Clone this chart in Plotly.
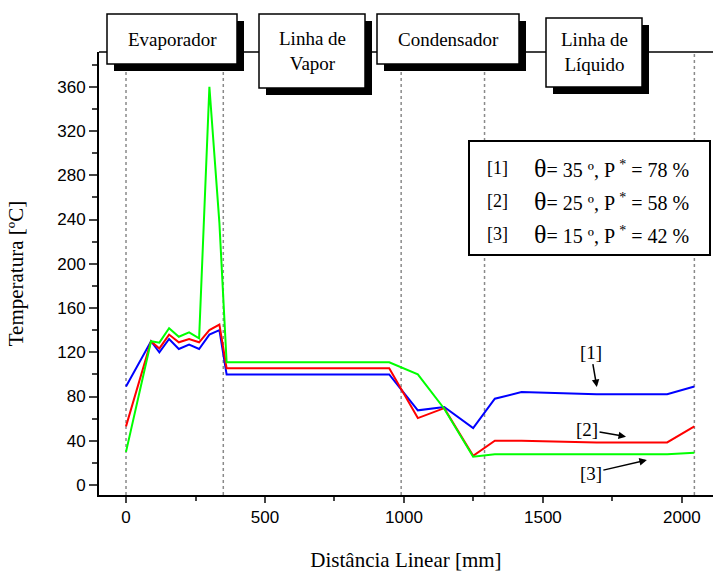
import plotly.graph_objects as go

# ---------------- data ----------------
x_blue = [0, 90, 120, 155, 190, 227, 263, 300, 336, 362, 947, 1050, 1145, 1249, 1327, 1423, 1693, 1947, 2045]
y_blue = [89, 130, 120, 132, 123, 127, 123, 136, 140, 100, 100, 67.5, 70.5, 51.5, 78, 84, 82, 82, 89]

x_red = [0, 90, 120, 155, 190, 227, 263, 300, 336, 362, 947, 1050, 1145, 1249, 1327, 1423, 1693, 1947, 2045]
y_red = [53, 130, 123.5, 136, 129, 132, 129, 140, 145, 105.5, 105.5, 60.5, 69.5, 26.5, 40, 40, 38.5, 38.5, 53]

x_green = [0, 90, 120, 155, 190, 227, 263, 300, 336, 362, 947, 1050, 1145, 1249, 1327, 1693, 1947, 2045]
y_green = [30, 130, 128.7, 141.7, 134, 138, 132.6, 360, 237, 111, 111, 100, 69, 25.6, 27.8, 27.8, 27.8, 29.2]

section_bounds = [0, 350, 990, 1290, 2045]
section_names = ["Evaporador", "Linha de<br>Vapor", "Condensador", "Linha de<br>Líquido"]

series_labels = ["[1]", "[2]", "[3]"]
theta_vals = [35, 25, 15]
p_vals = [78, 58, 42]

y_ticks = [0, 40, 80, 120, 160, 200, 240, 280, 320, 360]
x_ticks = [0, 500, 1000, 1500, 2000]

# ---------------- layout helpers ----------------
W, H = 713, 572
L, R, T, B = 99, 713, 52, 495


def px(x):
    return (x - L) / (R - L)


def py(y):
    return (B - y) / (B - T)


SERIF = "Liberation Serif, Times New Roman, serif"
SANS = "Liberation Sans, Arial, sans-serif"

fig = go.Figure()
for xs, ys, col in [(x_blue, y_blue, "#0000FF"), (x_red, y_red, "#FF0000"), (x_green, y_green, "#00FF00")]:
    fig.add_trace(go.Scatter(x=xs, y=ys, mode="lines", line=dict(color=col, width=2),
                             showlegend=False, hoverinfo="skip"))

shapes = []
for xb in section_bounds:
    shapes.append(dict(type="line", xref="x", yref="paper", x0=xb, x1=xb, y0=0, y1=1,
                       line=dict(color="#8a8a8a", width=1.5, dash="dot"), layer="below"))
shapes.append(dict(type="line", xref="paper", yref="paper", x0=0, x1=1, y0=1, y1=1,
                   line=dict(color="black", width=1.5), layer="below"))

boxes = [(107, 14, 237, 64), (259, 14, 365, 88), (377, 14, 519, 64), (546, 18, 642, 87)]
for (x0, y0, x1, y1) in boxes:
    shapes.append(dict(type="rect", xref="paper", yref="paper",
                       x0=px(x0 + 7), x1=px(x1 + 7), y0=py(y0 + 7), y1=py(y1 + 7),
                       fillcolor="black", line=dict(width=0), layer="above"))
    shapes.append(dict(type="rect", xref="paper", yref="paper",
                       x0=px(x0), x1=px(x1), y0=py(y0), y1=py(y1),
                       fillcolor="white", line=dict(color="black", width=1.5), layer="above"))

shapes.append(dict(type="rect", xref="paper", yref="paper",
                   x0=px(469), x1=px(710), y0=py(141), y1=py(255),
                   fillcolor="white", line=dict(color="black", width=2), layer="above"))

annotations = []
for (x0, y0, x1, y1), name in zip(boxes, section_names):
    annotations.append(dict(text=name, xref="paper", yref="paper",
                            x=px((x0 + x1) / 2), y=py((y0 + y1) / 2),
                            showarrow=False, font=dict(family=SERIF, size=19, color="black"),
                            xanchor="center", yanchor="middle"))

rows_y = [168, 201, 234]
for lab, th, pv, ry in zip(series_labels, theta_vals, p_vals, rows_y):
    annotations.append(dict(text=lab, xref="paper", yref="paper", x=px(497), y=py(ry),
                            showarrow=False, font=dict(family=SERIF, size=18, color="black"),
                            xanchor="center", yanchor="middle"))
    annotations.append(dict(text=f"<span style='font-size:26px'>θ</span>= {th} º, P <sup>*</sup> = {pv} %",
                            xref="paper", yref="paper", x=px(532), y=py(ry),
                            showarrow=False, font=dict(family=SERIF, size=20, color="black"),
                            xanchor="left", yanchor="middle"))

arrow_specs = [("[1]", 1694, 88.6, -6, -35), ("[2]", 1799, 43.7, -39, -7), ("[3]", 1874, 22.6, -56, 13)]
for lab, hx, hy, ax, ay in arrow_specs:
    annotations.append(dict(text=lab, x=hx, y=hy, xref="x", yref="y", ax=ax, ay=ay,
                            showarrow=True, arrowhead=2, arrowsize=1, arrowwidth=1.5,
                            arrowcolor="black", font=dict(family=SERIF, size=19, color="black")))

fig.update_layout(
    width=W, height=H,
    margin=dict(l=L, r=W - R, t=T, b=H - B, autoexpand=False),
    plot_bgcolor="white", paper_bgcolor="white",
    shapes=shapes, annotations=annotations,
    xaxis=dict(range=[-97.2, 2112], tickvals=x_ticks, ticks="outside", ticklen=6, tickwidth=1.5,
               minor=dict(dtick=250, tick0=0, ticks="outside", ticklen=4, tickwidth=1.5),
               showline=True, linewidth=2, linecolor="black", showgrid=False, zeroline=False,
               automargin=False,
               tickfont=dict(family=SANS, size=17, color="black"),
               title=dict(text="Distância Linear [mm]", font=dict(family=SERIF, size=21, color="black"),
                          standoff=31)),
    yaxis=dict(range=[-9.0, 391.4], tickvals=y_ticks, ticks="outside", ticklen=8, tickwidth=1.5,
               minor=dict(dtick=20, tick0=0, ticks="outside", ticklen=5, tickwidth=1.5),
               showline=True, linewidth=2, linecolor="black", showgrid=False, zeroline=False,
               automargin=False,
               tickfont=dict(family=SANS, size=17, color="black"),
               title=dict(text="Temperatura [ºC]", font=dict(family=SERIF, size=21, color="black"),
                          standoff=28)),
)

fig.write_html("out.html", config={"displayModeBar": False},
               post_script="document.body.style.margin='0px';")
